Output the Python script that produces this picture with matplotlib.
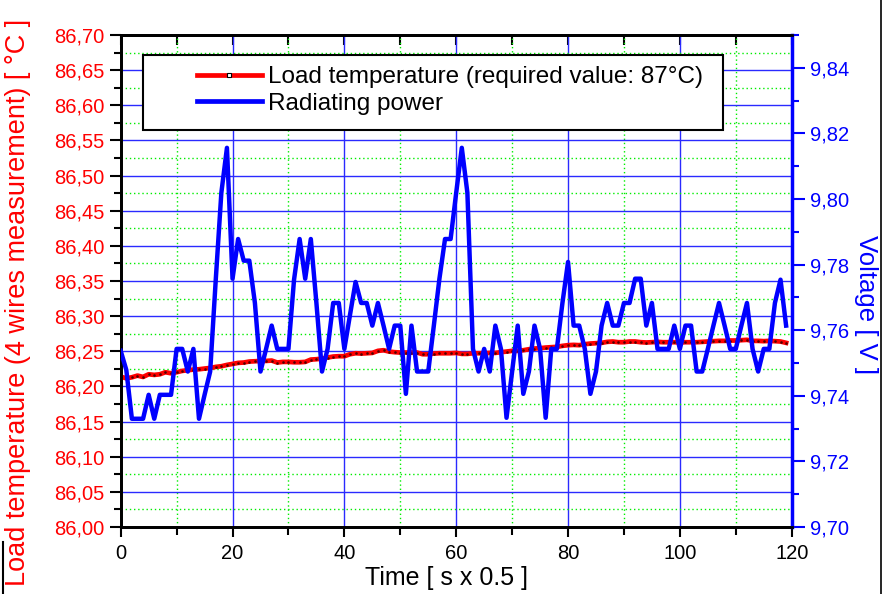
import numpy as np
import matplotlib.pyplot as plt
from matplotlib.ticker import MultipleLocator, FuncFormatter
from matplotlib.patches import Rectangle
from matplotlib.lines import Line2D

plt.rcParams['font.family'] = ['Liberation Sans', 'DejaVu Sans']

# sample index (one sample every 0.5 s)
time = np.arange(120)

# load temperature, 4 wires measurement [degC]
load_temp = [
    86.2139, 86.2116, 86.2130, 86.2154, 86.2135, 86.2173, 86.2164, 86.2173, 86.2202, 86.2187,
    86.2202, 86.2221, 86.2230, 86.2240, 86.2244, 86.2254, 86.2263, 86.2278, 86.2287, 86.2306,
    86.2320, 86.2335, 86.2340, 86.2354, 86.2358, 86.2363, 86.2363, 86.2368, 86.2340, 86.2349,
    86.2349, 86.2344, 86.2344, 86.2349, 86.2382, 86.2387, 86.2396, 86.2411, 86.2425, 86.2430,
    86.2430, 86.2458, 86.2472, 86.2468, 86.2472, 86.2477, 86.2506, 86.2515, 86.2496, 86.2487,
    86.2482, 86.2482, 86.2482, 86.2482, 86.2458, 86.2458, 86.2468, 86.2472, 86.2472, 86.2472,
    86.2477, 86.2463, 86.2463, 86.2472, 86.2472, 86.2472, 86.2477, 86.2477, 86.2487, 86.2496,
    86.2506, 86.2506, 86.2515, 86.2529, 86.2539, 86.2544, 86.2553, 86.2558, 86.2563, 86.2577,
    86.2587, 86.2591, 86.2587, 86.2601, 86.2610, 86.2615, 86.2620, 86.2634, 86.2639, 86.2629,
    86.2629, 86.2639, 86.2639, 86.2629, 86.2625, 86.2629, 86.2634, 86.2629, 86.2629, 86.2629,
    86.2625, 86.2629, 86.2629, 86.2629, 86.2634, 86.2639, 86.2644, 86.2648, 86.2648, 86.2653,
    86.2653, 86.2658, 86.2663, 86.2648, 86.2648, 86.2644, 86.2648, 86.2644, 86.2639, 86.2620,
]

# radiating power, read as voltage [V]
voltage = [
    9.7537, 9.7479, 9.7330, 9.7330, 9.7330, 9.7403, 9.7330, 9.7403, 9.7403, 9.7403,
    9.7543, 9.7543, 9.7474, 9.7543, 9.7330, 9.7403, 9.7474, 9.7754, 9.8019, 9.8156,
    9.7757, 9.7878, 9.7812, 9.7812, 9.7683, 9.7474, 9.7543, 9.7614, 9.7543, 9.7543,
    9.7543, 9.7754, 9.7878, 9.7757, 9.7878, 9.7683, 9.7474, 9.7543, 9.7683, 9.7683,
    9.7543, 9.7646, 9.7747, 9.7683, 9.7683, 9.7614, 9.7683, 9.7614, 9.7543, 9.7614,
    9.7614, 9.7406, 9.7614, 9.7474, 9.7474, 9.7474, 9.7614, 9.7757, 9.7878, 9.7878,
    9.8019, 9.8156, 9.8019, 9.7543, 9.7474, 9.7543, 9.7474, 9.7614, 9.7543, 9.7333,
    9.7474, 9.7614, 9.7406, 9.7474, 9.7614, 9.7543, 9.7333, 9.7543, 9.7543, 9.7683,
    9.7808, 9.7614, 9.7614, 9.7543, 9.7406, 9.7474, 9.7614, 9.7683, 9.7614, 9.7614,
    9.7683, 9.7683, 9.7757, 9.7757, 9.7614, 9.7683, 9.7543, 9.7543, 9.7543, 9.7614,
    9.7543, 9.7614, 9.7614, 9.7474, 9.7474, 9.7543, 9.7614, 9.7683, 9.7614, 9.7543,
    9.7543, 9.7614, 9.7683, 9.7543, 9.7474, 9.7543, 9.7543, 9.7683, 9.7754, 9.7614,
]

W, H = 883, 594
fig = plt.figure(figsize=(W / 100, H / 100), dpi=100)
ax = fig.add_axes([120.7 / W, 1 - 527 / H, 671 / W, 492 / H])
ax2 = ax.twinx()

comma = FuncFormatter(lambda v, pos: f'{v:.2f}'.replace('.', ','))

# grid: blue solid on major, green dotted on minor
ax.set_axisbelow(True)
ax.grid(which='major', color='#2a2aff', lw=1.0)
ax.grid(which='minor', color='#00ee00', ls=(0, (1, 2)), lw=1.0)

ax.plot(time, load_temp, color='red', lw=3.4, marker='s', ms=0.8,
        mfc='#500000', mec='#500000', zorder=3)
ax2.plot(time, voltage, color='blue', lw=3.2, zorder=3)

ax.set_xlim(0, 120)
ax.set_ylim(86.0, 86.7)
ax2.set_ylim(9.70, 9.85)
ax.xaxis.set_major_locator(MultipleLocator(20))
ax.xaxis.set_minor_locator(MultipleLocator(10))
ax.yaxis.set_major_locator(MultipleLocator(0.05))
ax.yaxis.set_minor_locator(MultipleLocator(0.025))
ax2.yaxis.set_major_locator(MultipleLocator(0.02))
ax2.yaxis.set_minor_locator(MultipleLocator(0.01))
ax.yaxis.set_major_formatter(comma)
ax2.yaxis.set_major_formatter(comma)

ax.tick_params(axis='x', which='major', direction='out', length=7, width=1.5,
               labelsize=14.5, pad=5)
ax.tick_params(axis='x', which='minor', direction='out', length=6, width=1.5)
ax.tick_params(axis='y', which='major', direction='out', length=8, width=1.5,
               labelcolor='red', labelsize=14.5, pad=4)
ax.tick_params(axis='y', which='minor', direction='out', length=5, width=1.5)
ax2.tick_params(axis='y', which='major', direction='out', length=9, width=1.5,
                color='blue', labelcolor='blue', labelsize=14.5, pad=4)
ax2.tick_params(axis='y', which='minor', direction='out', length=5, width=1.5,
                color='blue')

top = ax.secondary_xaxis('top')
top.xaxis.set_major_locator(MultipleLocator(10))
top.tick_params(direction='in', length=7, width=1.5, labeltop=False)
top.spines['top'].set_linewidth(2)

for s in ['left', 'bottom', 'top']:
    ax.spines[s].set_linewidth(2)
    ax2.spines[s].set_linewidth(2)
ax2.spines['right'].set_color('blue')
ax2.spines['right'].set_linewidth(2.5)

fig.text(18 / W, 1 - 302 / H, 'Load temperature (4 wires measurement) [ °C ]',
         rotation=90, ha='center', va='center', color='red', fontsize=19.5)
fig.text(866 / W, 1 - 305 / H, 'Voltage [ V ]', rotation=270,
         ha='center', va='center', color='blue', fontsize=18.5)
fig.text(447 / W, 1 - 578 / H, 'Time [ s x 0.5 ]', ha='center', va='center',
         fontsize=18)

# legend box
fig.add_artist(Rectangle((143 / W, 1 - 130 / H), 580 / W, 75 / H,
                         transform=fig.transFigure, facecolor='white',
                         edgecolor='black', lw=1.5, zorder=4))
handles = [
    Line2D([], [], color='red', lw=3.4, marker='s', ms=3, mfc='white',
           mec='black', mew=0.8),
    Line2D([], [], color='blue', lw=3.4),
]
leg = fig.legend(handles, ['Load temperature (required value: 87°C)', 'Radiating power'],
                 loc='upper left', bbox_to_anchor=(197 / W, 1 - 66 / H),
                 frameon=False, fontsize=17.5, handlelength=2.67,
                 handletextpad=0.25, labelspacing=0.2, borderpad=0,
                 borderaxespad=0, numpoints=1)
leg.set_zorder(6)

# remains of the outer page frame
fig.add_artist(Line2D([3 / W, 3 / W], [0, 1 - 542 / H], transform=fig.transFigure,
                      color='black', lw=1.5))
fig.add_artist(Line2D([880.5 / W, 880.5 / W], [0, 1], transform=fig.transFigure,
                      color='black', lw=1.2))

fig.savefig('out.png', dpi=100)
